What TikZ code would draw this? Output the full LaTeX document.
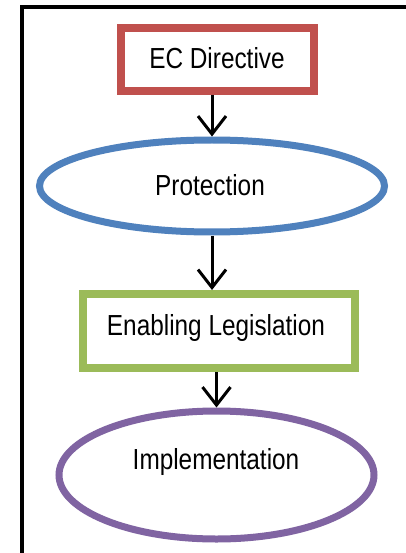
\documentclass[tikz,border=0pt]{standalone}
\usepackage{fontspec}
\setmainfont[FakeStretch=0.84]{Liberation Sans}
\usetikzlibrary{shapes.geometric,arrows.meta}
\definecolor{ecred}{HTML}{C0504D}
\definecolor{protblue}{HTML}{4F81BD}
\definecolor{leggreen}{HTML}{9BBB59}
\definecolor{implpurple}{HTML}{8064A2}
\tikzset{
  boxshape/.style={draw, line width=8pt, inner sep=0pt, fill=white},
  ovalshape/.style={draw, ellipse, line width=7pt, inner sep=0pt, fill=white},
  lbl/.style={anchor=base, inner sep=0pt, font=\fontsize{29}{32}\selectfont},
  flow/.style={line width=3pt, -{Straight Barb[length=18pt,width=28pt,line width=3pt]}},
  frameline/.style={line width=3.5pt, black}
}
\begin{document}
\begin{tikzpicture}[x=1pt,y=-1pt]
\useasboundingbox (0,0) rectangle (405,553);
\fill[white] (0,0) rectangle (405,553);
% frame (left and top edges)
\coordinate (fbl) at (22,560);
\coordinate (ftl) at (22,7);
\coordinate (ftr) at (412,7);
\draw[frameline] (fbl) -- (ftl) -- (ftr);
% shapes
\node[boxshape, draw=ecred, minimum width=193pt, minimum height=63pt] (ec) at (217.5,59.5) {};
\node[ovalshape, draw=protblue, minimum width=345pt, minimum height=92pt] (prot) at (212,186) {};
\node[boxshape, draw=leggreen, minimum width=272pt, minimum height=74pt] (leg) at (219,331) {};
\node[ovalshape, draw=implpurple, minimum width=315pt, minimum height=128pt] (impl) at (216.5,475) {};
% labels
\node[lbl] (ect) at (217,69) {EC Directive};
\node[lbl] (prott) at (210,196) {Protection};
\node[lbl] (legt) at (216,335) {Enabling Legislation};
\node[lbl] (implt) at (216,469) {Implementation};
% connectors
\draw[flow] (ec.south -| prot.north) -- (prot.north);
\draw[flow] (prot.south) -- (leg.north -| prot.south);
\draw[flow] (leg.south -| impl.north) -- (impl.north);
\end{tikzpicture}
\end{document}
